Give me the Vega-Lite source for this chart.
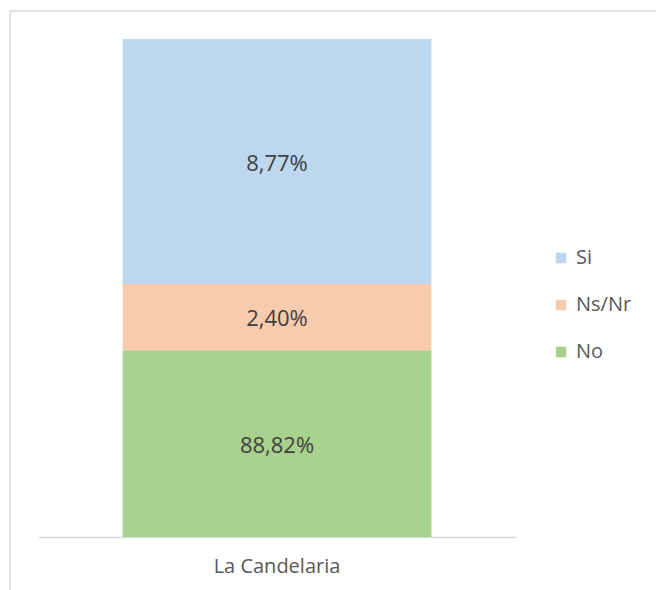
{
  "$schema": "https://vega.github.io/schema/vega-lite/v6.json",
  "width": 660,
  "height": 600,
  "autosize": {"type": "none"},
  "padding": {"left": 10, "top": 11, "right": 0, "bottom": 0},
  "background": "white",
  "config": {
    "view": {"stroke": "#D9D9D9", "strokeWidth": 1.5},
    "font": "Open Sans"
  },
  "data": {
    "values": [
      {"place": "La Candelaria", "response": "No", "value": 37.5, "label": "88,82%"},
      {"place": "La Candelaria", "response": "Ns/Nr", "value": 13.3, "label": "2,40%"},
      {"place": "La Candelaria", "response": "Si", "value": 49.2, "label": "8,77%"}
    ]
  },
  "layer": [
    {
      "mark": {"type": "bar"},
      "encoding": {
        "x": {
          "field": "place", "type": "nominal",
          "scale": {"range": [28, 506], "paddingInner": 0, "paddingOuter": 0.274},
          "axis": {
            "title": null, "labelAngle": 0, "ticks": false, "grid": false,
            "domainColor": "#D9D9D9", "domainWidth": 1.5,
            "labelFont": "Open Sans", "labelFontSize": 20, "labelColor": "#595959",
            "labelPadding": 19, "offset": -74
          }
        },
        "y": {
          "field": "value", "type": "quantitative", "stack": "zero",
          "scale": {"domain": [0, 100], "range": [526, 28]},
          "axis": null
        },
        "color": {
          "field": "response", "type": "nominal",
          "scale": {"domain": ["Si", "Ns/Nr", "No"], "range": ["#BDD7EE", "#F8CBAD", "#A9D18E"]},
          "legend": {
            "orient": "none", "legendX": 541, "legendY": 237, "title": null,
            "symbolType": "square", "symbolSize": 110, "symbolStrokeWidth": 0,
            "labelFont": "Open Sans", "labelFontSize": 20, "labelColor": "#595959",
            "rowPadding": 27, "labelOffset": 5, "padding": 0
          }
        },
        "order": {"field": "response", "type": "nominal", "sort": "ascending"}
      }
    },
    {
      "mark": {"type": "text", "font": "Open Sans", "fontSize": 22, "color": "#404040", "dy": 2},
      "encoding": {
        "x": {"field": "place", "type": "nominal"},
        "y": {"field": "value", "type": "quantitative", "stack": "zero", "bandPosition": 0.5},
        "text": {"field": "label", "type": "nominal"},
        "order": {"field": "response", "type": "nominal", "sort": "ascending"}
      }
    }
  ]
}
